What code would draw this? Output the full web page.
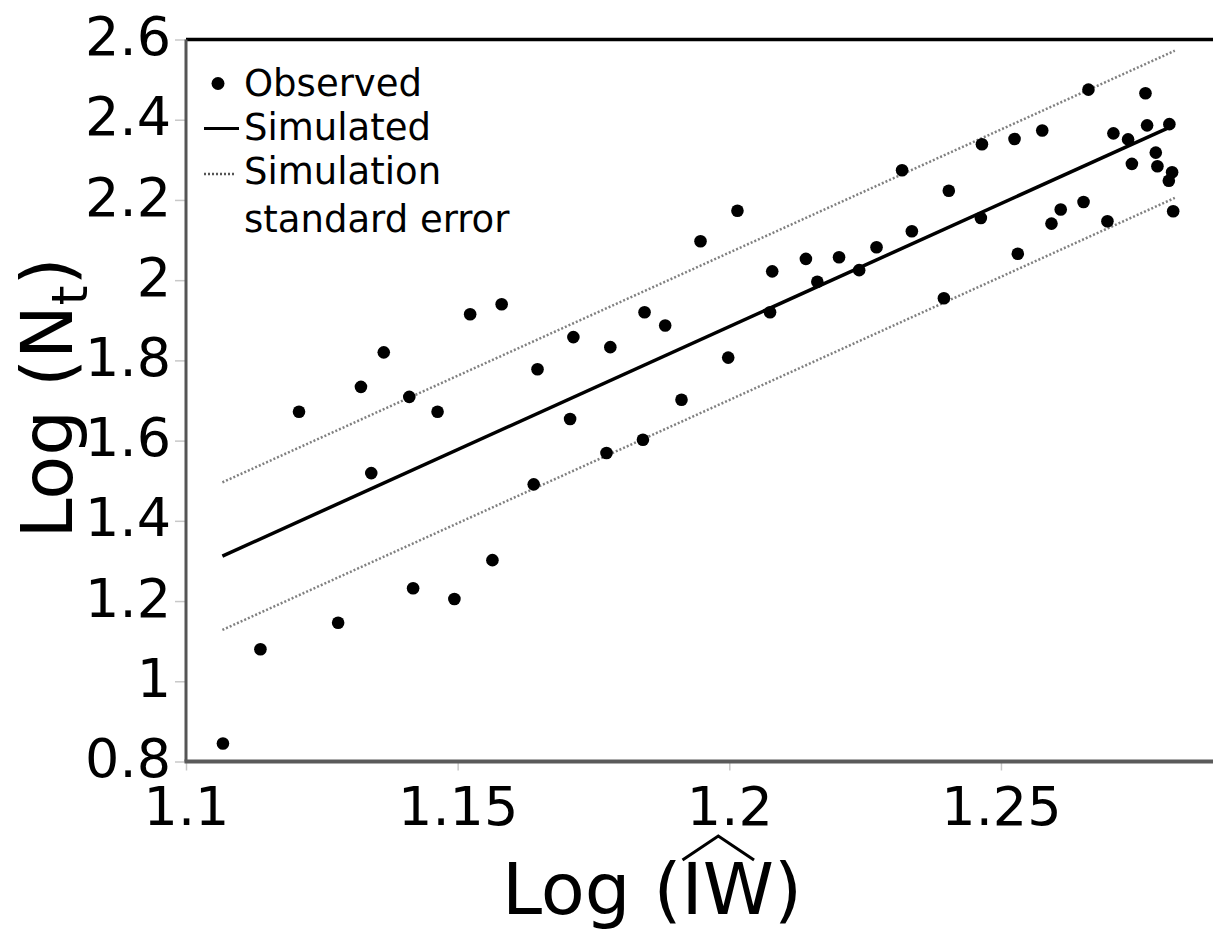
<!DOCTYPE html>
<html>
<head>
<meta charset="utf-8">
<script src="https://cdn.jsdelivr.net/npm/d3@7"></script>
<style>
  html, body { margin: 0; padding: 0; background: #fff; }
  svg { display: block; font-family: "DejaVu Sans", sans-serif; }
</style>
</head>
<body>
<div id="chart"></div>
<script>
const WIDTH = 1213;
const HEIGHT = 934;
const MARGIN = { top: 39.5, right: 0, bottom: 172.5, left: 186 };

// observed points
const obsX = [
  1.1068, 1.1137, 1.1208, 1.1280, 1.1322, 1.1341, 1.1364, 1.1411, 1.1418, 1.1463,
  1.1494, 1.1523, 1.1564, 1.1581, 1.1640, 1.1647, 1.1707, 1.1713, 1.1774, 1.1781,
  1.1841, 1.1844, 1.1882, 1.1912, 1.1947, 1.1998, 1.2015, 1.2075, 1.2079, 1.2141,
  1.2162, 1.2202, 1.2239, 1.2271, 1.2318, 1.2336, 1.2395, 1.2404, 1.2463, 1.2465,
  1.2525, 1.2531, 1.2576, 1.2593, 1.2610, 1.2652, 1.2661, 1.2696, 1.2707, 1.2734,
  1.2741, 1.2766, 1.2769, 1.2785, 1.2788, 1.2810, 1.2815, 1.2809, 1.2817
];
const obsY = [
  0.845, 1.080, 1.672, 1.146, 1.734, 1.519, 1.820, 1.709, 1.232, 1.672,
  1.205, 1.915, 1.302, 1.940, 1.491, 1.778, 1.654, 1.858, 1.569, 1.833,
  1.602, 1.920, 1.887, 1.702, 2.097, 1.807, 2.173, 1.920, 2.022, 2.053,
  1.996, 2.057, 2.025, 2.082, 2.274, 2.122, 1.955, 2.223, 2.155, 2.339,
  2.352, 2.066, 2.373, 2.141, 2.176, 2.195, 2.475, 2.147, 2.366, 2.351,
  2.290, 2.466, 2.386, 2.318, 2.284, 2.389, 2.269, 2.248, 2.172
];

// simulated line and its standard error band (end points)
const simX = [1.1067, 1.2805];
const simY = [1.312, 2.378];
const seX = [1.1067, 1.2820];
const seUpperY = [1.496, 2.572];
const seLowerY = [1.128, 2.205];

const xTickValues = [1.1, 1.15, 1.2, 1.25];
const yTickValues = [0.8, 1, 1.2, 1.4, 1.6, 1.8, 2, 2.2, 2.4, 2.6];
const legendLabels = ["Observed", "Simulated", "Simulation", "standard error"];

const svg = d3
  .select("#chart")
  .append("svg")
  .attr("width", WIDTH)
  .attr("height", HEIGHT)
  .attr("viewBox", `0 0 ${WIDTH} ${HEIGHT}`);

const xScale = d3
  .scaleLinear()
  .domain([1.1, 1.28903])
  .range([MARGIN.left, WIDTH - MARGIN.right]);

const yScale = d3
  .scaleLinear()
  .domain([0.8, 2.6])
  .range([HEIGHT - MARGIN.bottom, MARGIN.top]);

const plotBottom = HEIGHT - MARGIN.bottom;

// top frame line
svg
  .append("line")
  .attr("x1", MARGIN.left)
  .attr("x2", WIDTH)
  .attr("y1", MARGIN.top)
  .attr("y2", MARGIN.top)
  .attr("stroke", "#000")
  .attr("stroke-width", 3.5);

const xAxis = d3
  .axisBottom(xScale)
  .tickValues(xTickValues)
  .tickSize(9)
  .tickPadding(16)
  .tickFormat((d) => String(d));

const yAxis = d3
  .axisLeft(yScale)
  .tickValues(yTickValues)
  .tickSize(11)
  .tickPadding(4)
  .tickFormat((d) => String(+d.toFixed(1)));

svg
  .append("g")
  .attr("transform", `translate(${MARGIN.left},0)`)
  .call(yAxis)
  .call((g) => g.select(".domain").remove())
  .call((g) => g.selectAll("line").attr("stroke", "#c8c8c8").attr("stroke-width", 1.5))
  .call((g) =>
    g.selectAll("text")
      .attr("fill", "#000")
      .attr("font-size", 54)
      .attr("font-family", "DejaVu Sans")
      .attr("dy", "0.28em")
  );

svg
  .append("g")
  .attr("transform", `translate(0,${plotBottom})`)
  .call(xAxis)
  .call((g) => g.select(".domain").remove())
  .call((g) => g.selectAll("line").attr("stroke", "#c8c8c8").attr("stroke-width", 1.5))
  .call((g) =>
    g.selectAll("text")
      .attr("fill", "#000")
      .attr("font-size", 54)
      .attr("font-family", "DejaVu Sans")
  );

// left and bottom axis lines
svg
  .append("line")
  .attr("x1", MARGIN.left)
  .attr("x2", MARGIN.left)
  .attr("y1", MARGIN.top)
  .attr("y2", plotBottom)
  .attr("stroke", "#555")
  .attr("stroke-width", 3);

svg
  .append("line")
  .attr("x1", MARGIN.left - 1.5)
  .attr("x2", WIDTH)
  .attr("y1", plotBottom)
  .attr("y2", plotBottom)
  .attr("stroke", "#5a5a5a")
  .attr("stroke-width", 4);

// standard error lines
const seLine = d3
  .line()
  .x((d) => xScale(d[0]))
  .y((d) => yScale(d[1]));

[seUpperY, seLowerY].forEach((ys) => {
  svg
    .append("path")
    .datum(seX.map((x, i) => [x, ys[i]]))
    .attr("d", seLine)
    .attr("fill", "none")
    .attr("stroke", "#808080")
    .attr("stroke-width", 2.5)
    .attr("stroke-dasharray", "2,2");
});

// simulated line
svg
  .append("path")
  .datum(simX.map((x, i) => [x, simY[i]]))
  .attr("d", seLine)
  .attr("fill", "none")
  .attr("stroke", "#000")
  .attr("stroke-width", 3.5);

// observed points
svg
  .append("g")
  .selectAll("circle")
  .data(obsX.map((x, i) => ({ x, y: obsY[i] })))
  .join("circle")
  .attr("cx", (d) => xScale(d.x))
  .attr("cy", (d) => yScale(d.y))
  .attr("r", 6.3)
  .attr("fill", "#000");

// legend
const legend = svg.append("g").attr("font-size", 37).attr("fill", "#000");

legend.append("circle").attr("cx", 218).attr("cy", 83.5).attr("r", 6.5).attr("fill", "#000");
legend
  .append("line")
  .attr("x1", 204)
  .attr("x2", 239)
  .attr("y1", 128.5)
  .attr("y2", 128.5)
  .attr("stroke", "#000")
  .attr("stroke-width", 3);
legend
  .append("line")
  .attr("x1", 204)
  .attr("x2", 235)
  .attr("y1", 174)
  .attr("y2", 174)
  .attr("stroke", "#555")
  .attr("stroke-width", 2.5)
  .attr("stroke-dasharray", "2,2");

const legendBaselines = [96, 140, 184, 232];
legend
  .selectAll("text")
  .data(legendLabels)
  .join("text")
  .attr("x", 244)
  .attr("y", (d, i) => legendBaselines[i])
  .text((d) => d);

// y axis title
const yTitle = svg
  .append("text")
  .attr("transform", `translate(72,398) rotate(-90)`)
  .attr("text-anchor", "middle")
  .attr("font-size", 72)
  .attr("fill", "#000");
yTitle.append("tspan").text("Log (N");
yTitle.append("tspan").attr("font-size", 50).attr("dy", 15).text("t");
yTitle.append("tspan").attr("dy", -15).text(")");

// x axis title with hat over IW
const xTitleY = 914;
const xTitle = svg
  .append("text")
  .attr("x", 652)
  .attr("y", xTitleY)
  .attr("text-anchor", "middle")
  .attr("font-size", 72)
  .attr("fill", "#000")
  .text("Log (IW)");

const iBox = xTitle.node().getExtentOfChar(5);
const wBox = xTitle.node().getExtentOfChar(6);
const hatLeft = iBox.x + 1;
const hatRight = wBox.x + wBox.width * 0.72;
const hatBase = xTitleY - 54;
svg
  .append("path")
  .attr("d", `M${hatLeft},${hatBase} L${(hatLeft + hatRight) / 2},${hatBase - 24} L${hatRight},${hatBase}`)
  .attr("fill", "none")
  .attr("stroke", "#000")
  .attr("stroke-width", 3);
</script>
</body>
</html>
